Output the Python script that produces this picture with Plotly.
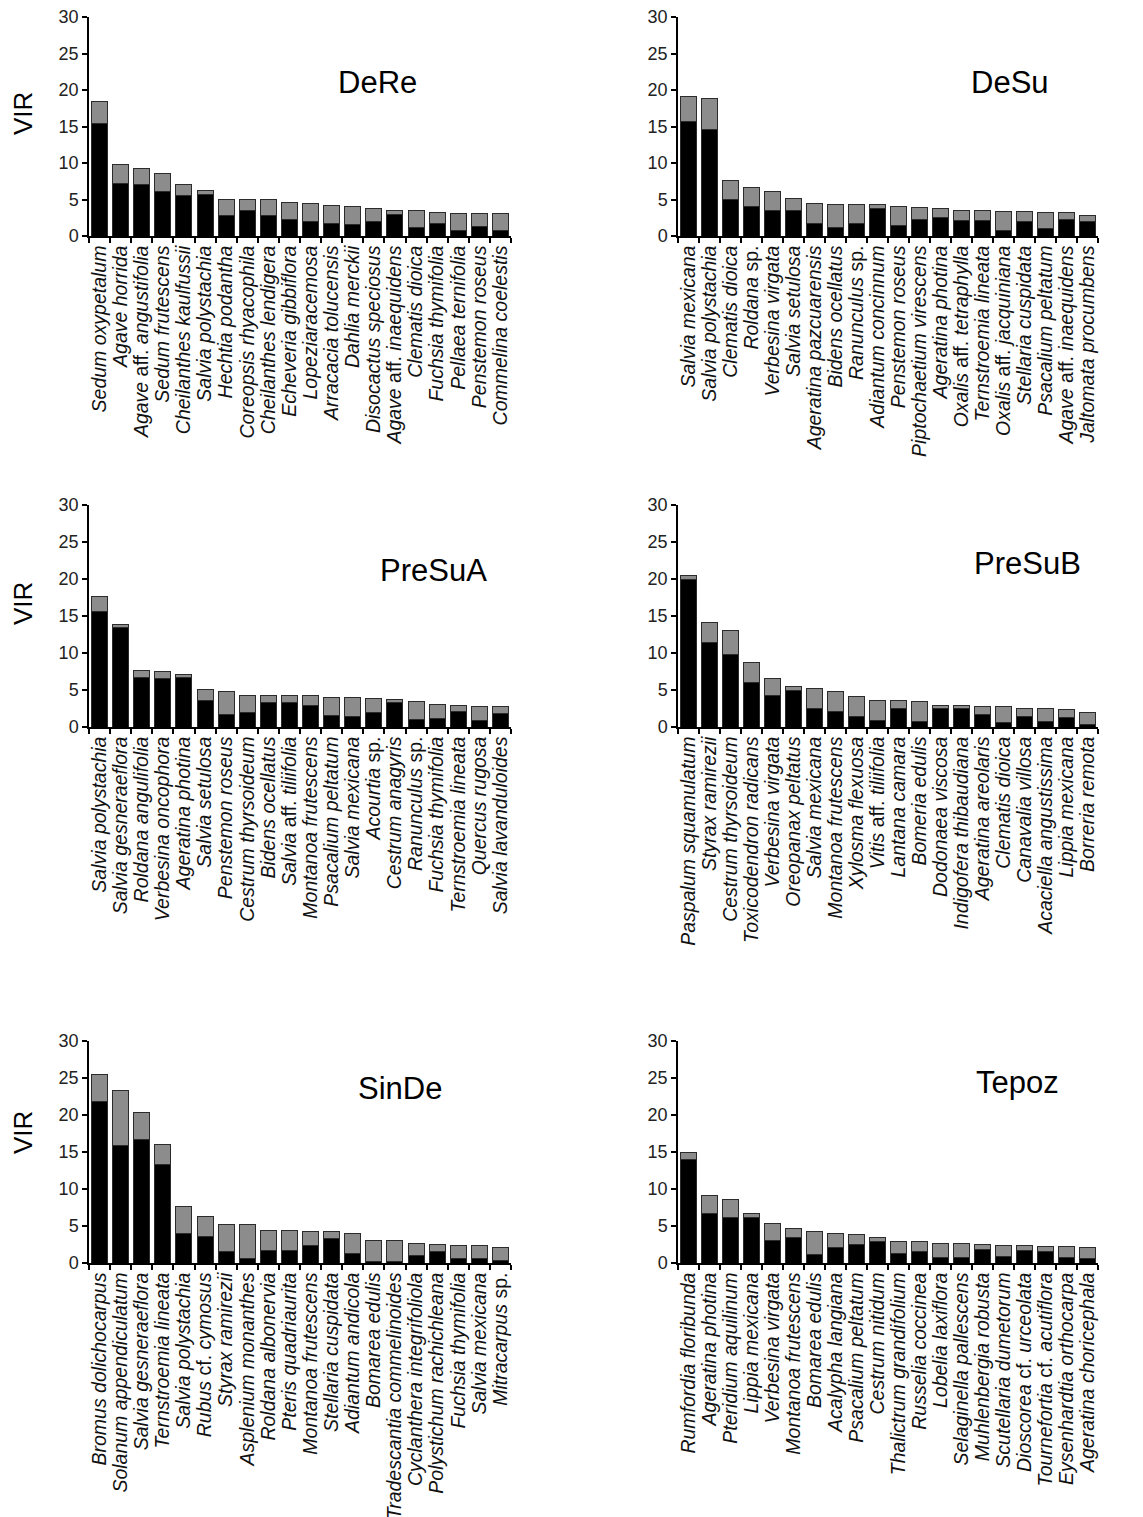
import plotly.graph_objects as go

# ---------------- data ----------------
panel_names = ["DeRe", "DeSu", "PreSuA", "PreSuB", "SinDe", "Tepoz"]

dere_species = ["<i>Sedum oxypetalum</i>", "<i>Agave horrida</i>", "<i>Agave</i> aff. <i>angustifolia</i>",
                "<i>Sedum frutescens</i>", "<i>Cheilanthes kaulfussii</i>", "<i>Salvia polystachia</i>",
                "<i>Hechtia podantha</i>", "<i>Coreopsis rhyacophila</i>", "<i>Cheilanthes lendigera</i>",
                "<i>Echeveria gibbiflora</i>", "<i>Lopeziaracemosa</i>", "<i>Arracacia tolucensis</i>",
                "<i>Dahlia merckii</i>", "<i>Disocactus speciosus</i>", "<i>Agave</i> aff. <i>inaequidens</i>",
                "<i>Clematis dioica</i>", "<i>Fuchsia thymifolia</i>", "<i>Pellaea ternifolia</i>",
                "<i>Penstemon roseus</i>", "<i>Commelina coelestis</i>"]
dere_total = [18.4, 9.75, 9.3, 8.5, 7.1, 6.2, 5.0, 5.0, 5.0, 4.65, 4.4, 4.2, 4.0, 3.7, 3.45, 3.45, 3.25, 3.15, 3.15, 3.15]
dere_black = [15.4, 7.15, 7.1, 6.05, 5.6, 5.7, 2.85, 3.5, 2.85, 2.2, 1.95, 1.7, 1.6, 2.0, 2.95, 1.2, 1.75, 0.7, 1.3, 0.7]

desu_species = ["<i>Salvia mexicana</i>", "<i>Salvia polystachia</i>", "<i>Clematis dioica</i>",
                "<i>Roldana</i> sp.", "<i>Verbesina virgata</i>", "<i>Salvia setulosa</i>",
                "<i>Ageratina pazcuarensis</i>", "<i>Bidens ocellatus</i>", "<i>Ranunculus</i> sp.",
                "<i>Adiantum concinnum</i>", "<i>Penstemon roseus</i>", "<i>Piptochaetium virescens</i>",
                "<i>Ageratina photina</i>", "<i>Oxalis</i> aff. <i>tetraphylla</i>", "<i>Ternstroemia lineata</i>",
                "<i>Oxalis</i> aff. <i>jacquiniana</i>", "<i>Stellaria cuspidata</i>", "<i>Psacalium peltatum</i>",
                "<i>Agave</i> aff. <i>inaequidens</i>", "<i>Jaltomata procumbens</i>"]
desu_total = [19.15, 18.9, 7.65, 6.6, 6.1, 5.2, 4.45, 4.3, 4.3, 4.3, 4.1, 3.95, 3.8, 3.5, 3.5, 3.4, 3.4, 3.2, 3.2, 2.85]
desu_black = [15.7, 14.6, 5.05, 4.0, 3.5, 3.5, 1.65, 1.2, 1.65, 3.8, 1.5, 2.3, 2.6, 2.1, 2.1, 0.8, 2.0, 1.05, 2.3, 2.05]

presua_species = ["<i>Salvia polystachia</i>", "<i>Salvia gesneraeflora</i>", "<i>Roldana angulifolia</i>",
                  "<i>Verbesina oncophora</i>", "<i>Ageratina photina</i>", "<i>Salvia setulosa</i>",
                  "<i>Penstemon roseus</i>", "<i>Cestrum thyrsoideum</i>", "<i>Bidens ocellatus</i>",
                  "<i>Salvia</i> aff. <i>tiliifolia</i>", "<i>Montanoa frutescens</i>", "<i>Psacalium peltatum</i>",
                  "<i>Salvia mexicana</i>", "<i>Acourtia</i> sp.", "<i>Cestrum anagyris</i>",
                  "<i>Ranunculus</i> sp.", "<i>Fuchsia thymifolia</i>", "<i>Ternstroemia lineata</i>",
                  "<i>Quercus rugosa</i>", "<i>Salvia lavanduloides</i>"]
presua_total = [17.7, 13.9, 7.7, 7.5, 7.1, 5.1, 4.8, 4.3, 4.3, 4.3, 4.3, 4.05, 4.05, 3.9, 3.7, 3.4, 3.1, 2.95, 2.75, 2.75]
presua_black = [15.6, 13.5, 6.7, 6.5, 6.7, 3.6, 1.7, 1.9, 3.35, 3.35, 2.85, 1.6, 1.45, 1.9, 3.35, 1.0, 1.15, 2.1, 0.9, 1.8]

presub_species = ["<i>Paspalum squamulatum</i>", "<i>Styrax ramirezii</i>", "<i>Cestrum thyrsoideum</i>",
                  "<i>Toxicodendron radicans</i>", "<i>Verbesina virgata</i>", "<i>Oreopanax peltatus</i>",
                  "<i>Salvia mexicana</i>", "<i>Montanoa frutescens</i>", "<i>Xylosma flexuosa</i>",
                  "<i>Vitis</i> aff. <i>tiliifolia</i>", "<i>Lantana camara</i>", "<i>Bomeria edulis</i>",
                  "<i>Dodonaea viscosa</i>", "<i>Indigofera thibaudiana</i>", "<i>Ageratina areolaris</i>",
                  "<i>Clematis dioica</i>", "<i>Canavalia villosa</i>", "<i>Acaciella angustissima</i>",
                  "<i>Lippia mexicana</i>", "<i>Borreria remota</i>"]
presub_total = [20.5, 14.15, 13.1, 8.65, 6.5, 5.45, 5.2, 4.8, 4.15, 3.55, 3.55, 3.4, 2.95, 2.95, 2.75, 2.75, 2.45, 2.45, 2.3, 2.0]
presub_black = [20.0, 11.45, 9.8, 5.95, 4.25, 4.9, 2.5, 2.05, 1.45, 0.85, 2.5, 0.7, 2.45, 2.45, 1.75, 0.55, 1.45, 0.8, 1.3, 0.4]

sinde_species = ["<i>Bromus dolichocarpus</i>", "<i>Solanum appendiculatum</i>", "<i>Salvia gesneraeflora</i>",
                 "<i>Ternstroemia lineata</i>", "<i>Salvia polystachia</i>", "<i>Rubus</i> cf. <i>cymosus</i>",
                 "<i>Styrax ramirezii</i>", "<i>Asplenium monanthes</i>", "<i>Roldana albonervia</i>",
                 "<i>Pteris quadriaurita</i>", "<i>Montanoa frutescens</i>", "<i>Stellaria cuspidata</i>",
                 "<i>Adiantum andicola</i>", "<i>Bomarea edulis</i>", "<i>Tradescantia commelinoides</i>",
                 "<i>Cyclanthera integrifoliola</i>", "<i>Polystichum rachichleana</i>", "<i>Fuchsia thymifolia</i>",
                 "<i>Salvia mexicana</i>", "<i>Mitracarpus</i> sp."]
sinde_total = [25.5, 23.25, 20.35, 16.0, 7.7, 6.35, 5.25, 5.25, 4.45, 4.45, 4.2, 4.2, 4.0, 3.1, 3.1, 2.65, 2.5, 2.35, 2.35, 2.15]
sinde_black = [21.8, 15.85, 16.65, 13.3, 4.05, 3.6, 1.6, 0.55, 1.7, 1.7, 2.4, 3.35, 1.25, 0.2, 0.2, 0.95, 1.6, 0.6, 0.6, 0.35]

tepoz_species = ["<i>Rumfordia floribunda</i>", "<i>Ageratina photina</i>", "<i>Pteridium aquilinum</i>",
                 "<i>Lippia mexicana</i>", "<i>Verbesina virgata</i>", "<i>Montanoa frutescens</i>",
                 "<i>Bomarea edulis</i>", "<i>Acalypha langiana</i>", "<i>Psacalium peltatum</i>",
                 "<i>Cestrum nitidum</i>", "<i>Thalictrum grandifolium</i>", "<i>Russelia coccinea</i>",
                 "<i>Lobelia laxiflora</i>", "<i>Selaginella pallescens</i>", "<i>Muhlenbergia robusta</i>",
                 "<i>Scutellaria dumetorum</i>", "<i>Dioscorea</i> cf. <i>urceolata</i>",
                 "<i>Tournefortia</i> cf. <i>acutiflora</i>", "<i>Eysenhardtia orthocarpa</i>",
                 "<i>Ageratina choricephala</i>"]
tepoz_total = [14.95, 9.1, 8.55, 6.65, 5.4, 4.7, 4.2, 4.05, 3.85, 3.45, 2.95, 2.85, 2.65, 2.65, 2.5, 2.35, 2.35, 2.2, 2.2, 2.05]
tepoz_black = [14.05, 6.75, 6.1, 6.15, 3.1, 3.45, 1.15, 2.05, 2.45, 2.95, 1.3, 1.6, 0.7, 0.7, 1.8, 0.9, 1.65, 1.5, 0.7, 0.55]

y_ticks = [0, 5, 10, 15, 20, 25, 30]
y_title = "VIR"

panels = [
    (dere_species, dere_total, dere_black),
    (desu_species, desu_total, desu_black),
    (presua_species, presua_total, presua_black),
    (presub_species, presub_total, presub_black),
    (sinde_species, sinde_total, sinde_black),
    (tepoz_species, tepoz_total, tepoz_black),
]

# ---------------- layout geometry (pixels, page coordinates) ----------------
W, H = 1143, 1517
OFF = 8  # page body margin offset of the figure div
col_x = [(89, 511), (678, 1098)]
row_y = [(17, 236), (505, 727), (1041, 1263)]
title_pos = [(377, 83), (1010, 83), (433, 570), (1027, 564), (400, 1088), (1017, 1082)]
vir_y = [114, 604, 1133]
vir_x = 23


def px(x):
    return (x - OFF) / W


def py(y):
    return 1 - (y - OFF) / H


FONT = "Liberation Sans, Arial, Helvetica, sans-serif"
GRAY = "#8c8c8c"
BLACK = "#000000"
EDGE = "#2b2b2b"

fig = go.Figure()
layout = dict(
    width=W, height=H,
    margin=dict(l=0, r=0, t=0, b=0, autoexpand=False),
    paper_bgcolor="white", plot_bgcolor="white",
    barmode="stack", bargap=0.24,
    showlegend=False,
    font=dict(family=FONT, color="#111111"),
    annotations=[],
)

for i, (species, total, black) in enumerate(panels):
    r, c = divmod(i, 2)
    ax = "" if i == 0 else str(i + 1)
    upper = [round(t - b, 3) for t, b in zip(total, black)]
    fig.add_trace(go.Bar(x=species, y=black, marker=dict(color=BLACK, line=dict(color=EDGE, width=1)),
                         xaxis="x" + ax, yaxis="y" + ax, hoverinfo="x+y"))
    fig.add_trace(go.Bar(x=species, y=upper, marker=dict(color=GRAY, line=dict(color=EDGE, width=1)),
                         xaxis="x" + ax, yaxis="y" + ax, hoverinfo="x+y"))
    x0, x1 = col_x[c]
    y0, y1 = row_y[r]
    layout["xaxis" + ax] = dict(
        domain=[px(x0), px(x1)], anchor="y" + ax, automargin=False,
        type="category", range=[-0.5, len(species) - 0.5],
        tickmode="array", tickvals=species, ticktext=species,
        showline=True, linecolor="black", linewidth=1.5,
        ticks="outside", tickson="boundaries", ticklen=5, tickwidth=1.5, tickcolor="black",
        tickangle=-90, tickfont=dict(size=19.5, family=FONT, color="#111111"),
        ticklabeloverflow="allow",
        showgrid=False, zeroline=False, fixedrange=True,
    )
    layout["yaxis" + ax] = dict(
        domain=[py(y1), py(y0)], anchor="x" + ax, automargin=False,
        range=[0, 30], tickvals=y_ticks,
        showline=True, linecolor="black", linewidth=1.5,
        ticks="outside", ticklen=5, tickwidth=1.5, tickcolor="black",
        tickfont=dict(size=18, family=FONT, color="#222222"),
        ticklabeloverflow="allow",
        showgrid=False, zeroline=False, fixedrange=True,
    )
    tx, ty = title_pos[i]
    layout["annotations"].append(dict(
        text=panel_names[i], x=px(tx), y=py(ty), xref="paper", yref="paper",
        showarrow=False, xanchor="center", yanchor="middle",
        font=dict(size=31, family=FONT, color="black"),
    ))
    if c == 0:
        layout["annotations"].append(dict(
            text=y_title, x=px(vir_x), y=py(vir_y[r]), xref="paper", yref="paper",
            showarrow=False, xanchor="center", yanchor="middle", textangle=-90,
            font=dict(size=26, family=FONT, color="black"),
        ))

fig.update_layout(**layout)
fig.write_html("out.html")
